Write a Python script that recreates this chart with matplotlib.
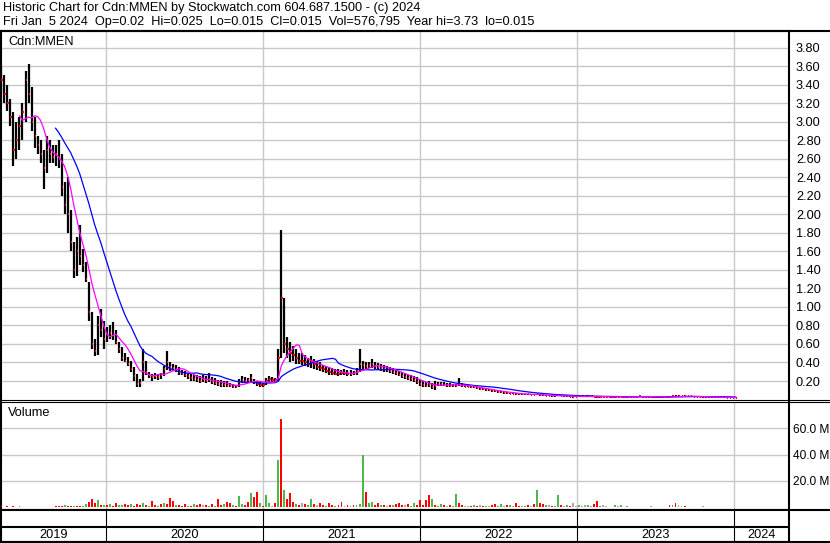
import matplotlib.pyplot as plt
from matplotlib.lines import Line2D
import numpy as np
import pandas as pd

plt.rcParams['font.family'] = ['Liberation Sans', 'DejaVu Sans']

# weekly bars (price in $, volume in millions)
week_hi = [
    3.60, 3.50, 3.40, 3.25, 3.10, 3.00, 3.05, 3.20, 3.55, 3.62,
    3.38, 3.05, 2.85, 2.80, 2.70, 2.85, 2.80, 2.75, 2.75, 2.80,
    2.65, 2.35, 2.40, 2.05, 1.70, 1.75, 1.88, 1.63, 1.48, 1.27,
    0.95, 0.65, 0.90, 0.98, 0.85, 0.78, 0.80, 0.84, 0.75, 0.62,
    0.57, 0.50, 0.46, 0.42, 0.35, 0.28, 0.22, 0.55, 0.42, 0.30,
    0.28, 0.29, 0.28, 0.29, 0.36, 0.52, 0.40, 0.38, 0.37, 0.35,
    0.32, 0.31, 0.29, 0.28, 0.27, 0.26, 0.25, 0.26, 0.25, 0.29,
    0.24, 0.23, 0.21, 0.21, 0.20, 0.20, 0.18, 0.17, 0.16, 0.22,
    0.25, 0.24, 0.23, 0.28, 0.22, 0.20, 0.19, 0.18, 0.23, 0.25,
    0.24, 0.23, 0.55, 1.83, 1.10, 0.68, 0.62, 0.58, 0.55, 0.50,
    0.50, 0.48, 0.45, 0.47, 0.44, 0.42, 0.40, 0.37, 0.36, 0.35,
    0.34, 0.33, 0.33, 0.32, 0.33, 0.32, 0.32, 0.31, 0.34, 0.55,
    0.42, 0.40, 0.41, 0.44, 0.40, 0.39, 0.38, 0.37, 0.36, 0.35,
    0.34, 0.33, 0.31, 0.30, 0.28, 0.27, 0.26, 0.25, 0.24, 0.21,
    0.20, 0.19, 0.20, 0.18, 0.20, 0.19, 0.19, 0.19, 0.18, 0.18,
    0.17, 0.17, 0.23, 0.18, 0.16, 0.16, 0.15, 0.15, 0.14, 0.13,
    0.12, 0.12, 0.11, 0.11, 0.10, 0.10, 0.09, 0.09, 0.08, 0.075,
    0.07, 0.07, 0.07, 0.065, 0.065, 0.065, 0.06, 0.06, 0.065, 0.06,
    0.055, 0.05, 0.05, 0.045, 0.05, 0.055, 0.05, 0.045, 0.045, 0.04,
    0.04, 0.04, 0.045, 0.04, 0.04, 0.045, 0.04, 0.04, 0.035, 0.035,
    0.035, 0.035, 0.035, 0.03, 0.035, 0.035, 0.035, 0.03, 0.03, 0.035,
    0.04, 0.035, 0.04, 0.035, 0.035, 0.04, 0.035, 0.03, 0.03, 0.03,
    0.03, 0.03, 0.035, 0.04, 0.045, 0.045, 0.04, 0.045, 0.04, 0.04,
    0.035, 0.035, 0.035, 0.03, 0.03, 0.03, 0.03, 0.03, 0.03, 0.03,
    0.03, 0.03, 0.025, 0.025, 0.025,
]
week_lo = [
    3.30, 3.20, 3.12, 2.95, 2.52, 2.60, 2.70, 2.80, 3.00, 3.20,
    2.90, 2.72, 2.65, 2.55, 2.27, 2.45, 2.55, 2.55, 2.52, 2.50,
    2.20, 2.00, 1.80, 1.60, 1.31, 1.33, 1.45, 1.38, 1.27, 0.85,
    0.55, 0.47, 0.48, 0.68, 0.55, 0.62, 0.65, 0.64, 0.60, 0.50,
    0.42, 0.40, 0.36, 0.30, 0.20, 0.14, 0.13, 0.20, 0.26, 0.23,
    0.20, 0.22, 0.21, 0.22, 0.25, 0.32, 0.31, 0.31, 0.30, 0.27,
    0.26, 0.24, 0.22, 0.20, 0.20, 0.19, 0.18, 0.19, 0.18, 0.19,
    0.17, 0.16, 0.15, 0.14, 0.14, 0.13, 0.13, 0.12, 0.12, 0.14,
    0.18, 0.18, 0.18, 0.19, 0.17, 0.15, 0.14, 0.14, 0.16, 0.19,
    0.19, 0.19, 0.20, 0.45, 0.50, 0.45, 0.40, 0.42, 0.38, 0.38,
    0.37, 0.36, 0.35, 0.34, 0.33, 0.32, 0.31, 0.30, 0.29, 0.27,
    0.26, 0.26, 0.25, 0.26, 0.26, 0.25, 0.25, 0.26, 0.27, 0.30,
    0.33, 0.33, 0.34, 0.34, 0.33, 0.32, 0.31, 0.30, 0.30, 0.29,
    0.28, 0.27, 0.25, 0.23, 0.22, 0.21, 0.20, 0.19, 0.17, 0.15,
    0.14, 0.13, 0.14, 0.11, 0.10, 0.15, 0.15, 0.15, 0.14, 0.14,
    0.14, 0.14, 0.15, 0.14, 0.13, 0.13, 0.12, 0.12, 0.11, 0.10,
    0.10, 0.09, 0.09, 0.08, 0.08, 0.07, 0.07, 0.06, 0.06, 0.055,
    0.055, 0.05, 0.05, 0.05, 0.05, 0.045, 0.045, 0.045, 0.045, 0.04,
    0.04, 0.035, 0.035, 0.03, 0.03, 0.035, 0.035, 0.03, 0.03, 0.025,
    0.02, 0.025, 0.03, 0.03, 0.03, 0.03, 0.03, 0.025, 0.02, 0.02,
    0.025, 0.025, 0.025, 0.02, 0.02, 0.025, 0.025, 0.02, 0.02, 0.025,
    0.025, 0.025, 0.025, 0.025, 0.025, 0.025, 0.025, 0.02, 0.02, 0.02,
    0.02, 0.02, 0.02, 0.025, 0.03, 0.03, 0.03, 0.03, 0.03, 0.03,
    0.025, 0.025, 0.025, 0.02, 0.02, 0.02, 0.02, 0.02, 0.02, 0.02,
    0.02, 0.02, 0.015, 0.015, 0.015,
]
week_close = [
    3.45, 3.30, 3.20, 3.05, 2.70, 2.80, 2.95, 3.10, 3.45, 3.30,
    3.00, 2.85, 2.75, 2.65, 2.50, 2.70, 2.65, 2.62, 2.65, 2.60,
    2.30, 2.10, 2.00, 1.70, 1.40, 1.60, 1.55, 1.45, 1.30, 0.95,
    0.60, 0.52, 0.80, 0.75, 0.65, 0.70, 0.72, 0.70, 0.62, 0.55,
    0.45, 0.42, 0.38, 0.33, 0.25, 0.17, 0.18, 0.40, 0.30, 0.26,
    0.24, 0.25, 0.24, 0.26, 0.33, 0.40, 0.35, 0.34, 0.33, 0.30,
    0.28, 0.27, 0.25, 0.23, 0.22, 0.21, 0.20, 0.22, 0.20, 0.22,
    0.19, 0.18, 0.17, 0.16, 0.16, 0.15, 0.15, 0.14, 0.14, 0.19,
    0.21, 0.20, 0.21, 0.23, 0.19, 0.17, 0.16, 0.16, 0.20, 0.22,
    0.21, 0.21, 0.45, 1.10, 0.60, 0.55, 0.50, 0.48, 0.45, 0.42,
    0.42, 0.40, 0.38, 0.40, 0.38, 0.35, 0.34, 0.33, 0.31, 0.30,
    0.29, 0.28, 0.28, 0.29, 0.29, 0.28, 0.28, 0.29, 0.31, 0.38,
    0.37, 0.36, 0.37, 0.38, 0.36, 0.35, 0.34, 0.33, 0.32, 0.31,
    0.30, 0.29, 0.27, 0.25, 0.24, 0.23, 0.22, 0.21, 0.19, 0.17,
    0.16, 0.15, 0.16, 0.13, 0.15, 0.17, 0.17, 0.16, 0.16, 0.15,
    0.15, 0.15, 0.17, 0.15, 0.14, 0.14, 0.13, 0.13, 0.12, 0.11,
    0.11, 0.10, 0.10, 0.09, 0.09, 0.08, 0.08, 0.07, 0.07, 0.065,
    0.06, 0.06, 0.06, 0.055, 0.06, 0.055, 0.05, 0.05, 0.055, 0.045,
    0.045, 0.04, 0.04, 0.035, 0.04, 0.045, 0.04, 0.035, 0.035, 0.03,
    0.03, 0.03, 0.035, 0.035, 0.035, 0.035, 0.035, 0.03, 0.025, 0.03,
    0.03, 0.03, 0.03, 0.025, 0.03, 0.03, 0.03, 0.025, 0.025, 0.03,
    0.03, 0.03, 0.035, 0.03, 0.03, 0.03, 0.03, 0.025, 0.025, 0.025,
    0.025, 0.025, 0.025, 0.035, 0.04, 0.04, 0.035, 0.04, 0.035, 0.035,
    0.03, 0.03, 0.03, 0.025, 0.025, 0.025, 0.025, 0.025, 0.025, 0.025,
    0.025, 0.02, 0.02, 0.02, 0.015,
]
week_vol = [
    1.0, 0.6, 0.8, 0.4, 0.9, 0.5, 0.7, 0.4, 0.3, 0.5,
    0.3, 0.4, 0.3, 0.5, 0.3, 0.6, 0.4, 0.5, 0.8, 1.2,
    0.9, 1.5, 1.0, 1.3, 0.7, 1.4, 1.1, 0.9, 2.2, 4.0,
    6.5, 3.0, 5.3, 2.0, 1.5, 1.8, 2.5, 1.2, 3.0, 2.0,
    1.5, 2.6, 1.8, 2.5, 1.2, 2.8, 1.5, 3.2, 2.0, 1.0,
    4.7, 1.5, 1.0, 2.2, 3.0, 2.4, 7.2, 4.7, 1.5, 2.0,
    1.2, 2.5, 0.8, 1.0, 2.5, 1.5, 2.8, 1.5, 2.0, 1.0,
    2.5, 1.2, 6.5, 2.0, 2.2, 4.0, 3.0, 1.5, 1.2, 8.5,
    2.5, 1.5, 4.0, 10.5, 8.0, 11.6, 3.0, 1.0, 9.0, 3.0,
    1.0, 3.0, 36.0, 67.0, 13.1, 6.0, 10.5, 4.0, 2.5, 2.0,
    3.0, 2.2, 1.5, 6.5, 2.5, 1.5, 3.5, 2.0, 1.0, 3.0,
    1.5, 1.0, 2.0, 4.2, 1.2, 1.8, 1.0, 2.0, 1.5, 2.5,
    39.6, 11.6, 3.0, 4.0, 2.0, 3.5, 1.5, 2.0, 1.2, 2.0,
    1.5, 2.5, 3.4, 2.0, 1.5, 2.8, 1.0, 3.5, 2.0, 5.5,
    1.5, 5.5, 9.3, 6.5, 2.0, 1.0, 2.5, 1.5, 1.0, 1.8,
    1.0, 10.2, 3.5, 2.0, 1.0, 0.8, 1.2, 1.5, 0.8, 1.5,
    1.2, 0.8, 1.0, 1.5, 2.5, 1.2, 2.5, 1.0, 2.0, 1.5,
    1.0, 3.0, 1.2, 0.8, 1.0, 1.5, 0.8, 2.7, 13.1, 3.0,
    2.5, 1.5, 1.5, 1.0, 1.2, 9.3, 2.0, 1.0, 2.0, 1.0,
    3.0, 1.0, 2.0, 1.0, 2.0, 1.5, 0.8, 2.5, 4.7, 1.0,
    2.0, 0.8, 0.5, 0.6, 2.0, 1.0, 2.0, 0.6, 1.0, 0.4,
    0.5, 0.6, 0.3, 0.4, 0.3, 0.5, 1.0, 0.3, 0.4, 0.3,
    0.5, 0.4, 2.0, 1.5, 3.0, 2.0, 0.8, 1.0, 0.5, 0.4,
    0.3, 0.6, 0.4, 1.0, 0.3, 0.4, 0.3, 0.5, 0.6, 0.5,
    0.4, 0.3, 0.3, 0.4, 0.6,
]
# u = up (green), d = down (red), n = unchanged (grey)
week_dir = ''.join([
    'dududdudud', 'dudduddudd', 'duddudduud', 'ddudududdu', 'uddudddudu',
    'ddududddud', 'ddududdndu', 'dudduddudu', 'uddudduduu', 'ndududddud',
    'nduudnddud', 'duddnduduu', 'uduuddudnd', 'udddnduudd', 'ddduduudnd',
    'uuddnndudn', 'dundduundu', 'nddnudndud', 'dunduudnud', 'nnunnunddu',
    'nnnuununun', 'ndnnnnnnnn', 'nndudnndnu', 'nnunnnnnnn', 'nnnnd',
])

price_ticks = np.arange(0.2, 3.81, 0.2)
vol_ticks = [20, 40, 60]
years = [2019, 2020, 2021, 2022, 2023, 2024]

title1 = 'Historic Chart for Cdn:MMEN by Stockwatch.com 604.687.1500 - (c) 2024'
title2 = ('Fri Jan  5 2024  Op=0.02  Hi=0.025  Lo=0.015  Cl=0.015  '
          'Vol=576,795  Year hi=3.73  lo=0.015')

dates = pd.date_range('2019-05-03', periods=len(week_close), freq='7D')
close = pd.Series(week_close, index=dates)
ma_short = close.rolling(7).mean()
ma_long = close.rolling(19).mean()
vol_colors = [{'u': '#4cb84c', 'd': '#ff0000', 'n': '#a8a8a8'}[c] for c in week_dir]

x0 = pd.Timestamp('2019-05-02')
x1 = pd.Timestamp('2024-05-08')
year_starts = [pd.Timestamp(f'{y}-01-01') for y in years[1:]]

W, H = 830, 543
fig = plt.figure(figsize=(W / 100, H / 100), dpi=100)


def box(left, top, right, bottom):
    return [left / W, 1 - bottom / H, (right - left) / W, (bottom - top) / H]


def hline(y, xa, xb, lw=1.5):
    fig.add_artist(Line2D([xa / W, xb / W], [1 - y / H, 1 - y / H],
                          transform=fig.transFigure, color='black', lw=lw))


def label(x, y, s):
    fig.text(x / W, 1 - y / H, s, fontsize=9.2, va='center')


grid_kw = dict(color='#c8c8c8', lw=1)

# price panel
ax = fig.add_axes(box(1, 31, 789, 400))
ax.vlines(dates, week_lo, week_hi, color='black', lw=1.6, zorder=3)
ax.hlines(week_close, dates, dates + pd.Timedelta(days=3), color='red', lw=1.5, zorder=4)
ax.plot(dates, ma_long, color='#0000ff', lw=0.9, zorder=5)
ax.plot(dates, ma_short, color='#ff00ff', lw=0.9, zorder=5)
ax.set_xlim(x0, x1)
ax.set_ylim(-0.005, 3.98)
ax.set_yticks(price_ticks)
ax.set_yticklabels([f'{v:.2f}' for v in price_ticks])
ax.set_xticks(year_starts)
ax.grid(True, **grid_kw)
ax.set_axisbelow(True)
ax.yaxis.tick_right()
ax.tick_params(axis='y', length=0, pad=5, labelsize=9.2)
ax.tick_params(axis='x', length=0, labelbottom=False)

# volume panel
axv = fig.add_axes(box(1, 402, 789, 510))
axv.bar(dates, week_vol, width=4.5, color=vol_colors, zorder=3)
axv.set_xlim(x0, x1)
axv.set_ylim(-2, 79.8)
axv.set_yticks(vol_ticks)
axv.set_yticklabels([f'{v:.1f} M' for v in vol_ticks])
axv.set_xticks(year_starts)
axv.grid(True, **grid_kw)
axv.set_axisbelow(True)
axv.yaxis.tick_right()
axv.tick_params(axis='y', length=0, pad=3, labelsize=8.6)
axv.tick_params(axis='x', length=0, labelbottom=False)

# date band
axd = fig.add_axes(box(1, 510, 789, 542))
axd.set_xlim(x0, x1)
axd.set_ylim(0, 1)
axd.vlines(year_starts, 0, 1, color='black', lw=0.8)
axd.axhline(0.47, color='black', lw=1.5)
edges = [x0] + year_starts + [x1]
for y, a, b in zip(years, edges[:-1], edges[1:]):
    axd.text(a + (b - a) / 2, 0.22, str(y), ha='center', va='center', fontsize=9.2)
axd.set_xticks([])
axd.set_yticks([])

for a in (ax, axv, axd):
    for s in a.spines.values():
        s.set_color('black')
        s.set_linewidth(1.5)
ax.spines['bottom'].set_linewidth(0.8)
axv.spines['top'].set_linewidth(0.8)

# outer frame lines
hline(30.5, 0, W, lw=1.5)
hline(400, 789, W, lw=0.8)
hline(402, 789, W, lw=0.8)
hline(510, 789, W, lw=1.5)
hline(542, 0, W, lw=1.5)

label(3, 8.5, title1)
label(3, 22, title2)
label(8, 42, 'Cdn:MMEN')
label(8, 413, 'Volume')

fig.savefig('out.png', dpi=100)
